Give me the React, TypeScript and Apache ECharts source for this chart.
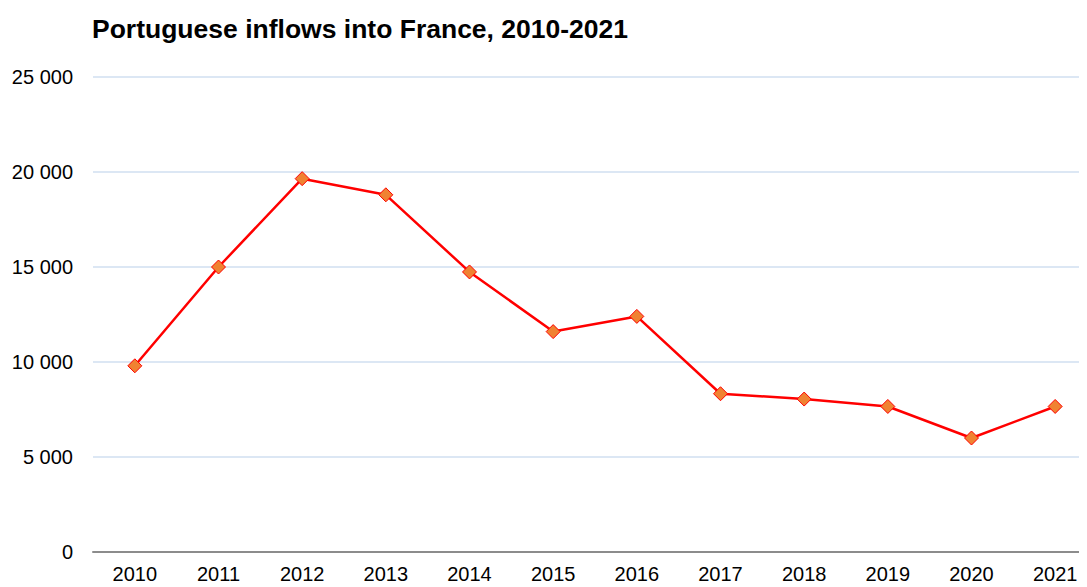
import React, { useEffect, useRef } from "react";
import * as echarts from "echarts";

const years = ["2010", "2011", "2012", "2013", "2014", "2015", "2016", "2017", "2018", "2019", "2020", "2021"];
const inflows = [9800, 15000, 19650, 18800, 14740, 11600, 12400, 8330, 8050, 7660, 6000, 7660];
const titleText = "Portuguese inflows into France, 2010-2021";

const FONT = "Arial, 'Liberation Sans', sans-serif";

export default function App() {
  const ref = useRef<HTMLDivElement>(null);
  useEffect(() => {
    if (!ref.current) return;
    const chart = echarts.init(ref.current, null, { renderer: "svg" });
    chart.setOption({
      animation: false,
      backgroundColor: "#ffffff",
      title: {
        text: titleText,
        left: 84,
        top: 7,
        padding: 0,
        textStyle: { fontFamily: FONT, fontSize: 26.5, fontWeight: "bold", color: "#000000" },
      },
      grid: { left: 85, top: 69, width: 1004, height: 475, containLabel: false },
      xAxis: {
        type: "category",
        data: years,
        boundaryGap: true,
        axisLine: { lineStyle: { color: "#8c8c8c", width: 2 } },
        axisTick: { show: false },
        axisLabel: { fontFamily: FONT, fontSize: 20, color: "#000000", margin: 12 },
        splitLine: { show: false },
      },
      yAxis: {
        type: "value",
        min: 0,
        max: 25000,
        interval: 5000,
        axisLine: { show: false },
        axisTick: { show: false },
        axisLabel: {
          fontFamily: FONT,
          fontSize: 20,
          color: "#000000",
          margin: 20,
          formatter: (v: number) => v.toLocaleString("en-US").replace(/,/g, " "),
        },
        splitLine: { lineStyle: { color: "#dce7f4", width: 2 } },
      },
      series: [
        {
          type: "line",
          data: inflows,
          lineStyle: { color: "#ff0000", width: 2.5 },
          symbol: "diamond",
          symbolSize: 14,
          itemStyle: { color: "#f08232", borderColor: "#ff0000", borderWidth: 1 },
        },
      ],
    });
    return () => chart.dispose();
  }, []);
  return (
    <div style={{ width: 1079, height: 579, overflow: "hidden" }}>
      <div ref={ref} style={{ width: 1110, height: 579 }} />
    </div>
  );
}
